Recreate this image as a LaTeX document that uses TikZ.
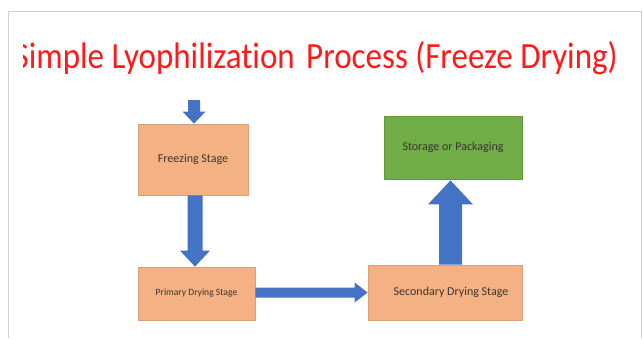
\documentclass[tikz,border=0pt]{standalone}
\usepackage{fontspec}
\setmainfont{Carlito}[Ligatures=NoCommon]
\usetikzlibrary{calc}
\definecolor{boxorange}{HTML}{F4B183}
\definecolor{boxorangeline}{HTML}{D9A07C}
\definecolor{boxgreen}{HTML}{70AD47}
\definecolor{boxgreenline}{HTML}{5E9A3C}
\definecolor{arrowblue}{HTML}{4472C4}
\definecolor{titlered}{HTML}{FF1A1A}
\definecolor{boxtext}{HTML}{3A3530}
\definecolor{framegray}{HTML}{CFCFCF}
\tikzset{
  stagebox/.style={draw=boxorangeline, line width=0.8pt, fill=boxorange, inner sep=0pt, font=\fontsize{12}{14}\selectfont, text=boxtext},
  donebox/.style={draw=boxgreenline, line width=0.8pt, fill=boxgreen, inner sep=0pt, font=\fontsize{12}{14}\selectfont, text=boxtext},
  frameline/.style={draw=framegray, line width=1pt},
}
% block arrow: #1 start, #2 tip, #3 shaft half width, #4 head half width, #5 head length
\newcommand\blockarrow[5]{%
  \path ($(#2)!#5!(#1)$) coordinate (hb);
  \fill[arrowblue] ($(#1)!#3!90:(#2)$) -- ($(hb)!#3!90:(#2)$) -- ($(hb)!#4!90:(#2)$) -- (#2)
    -- ($(hb)!#4!-90:(#2)$) -- ($(hb)!#3!-90:(#2)$) -- ($(#1)!#3!-90:(#2)$) -- cycle;
}
\begin{document}
\begin{tikzpicture}[x=1pt, y=-1pt]
\useasboundingbox (0,0) rectangle (643,338);
\fill[white] (0,0) rectangle (643,338);
% slide frame
\draw[frameline] (8.5,338) -- (8.5,11.5) -- (641.5,11.5) -- (641.5,338);
% title
\begin{scope}
\clip (23,20) rectangle (640,95);
\node[anchor=base east, inner sep=0pt, text=titlered, font=\fontsize{33}{37}\selectfont] (title) at (618,68)
  {\scalebox{1}[1.12]{Simple Lyophilization\hspace{0.35em}Process (Freeze Drying)}};
\end{scope}
% boxes
\node[stagebox, minimum width=110pt, minimum height=71pt] (fr) at (193,159.5) {Freezing Stage};
\node[stagebox, minimum width=117pt, minimum height=53pt, font=\fontsize{9.6}{11}\selectfont] (pr) at (196.5,293.5) {Primary Drying Stage};
\node[stagebox, minimum width=154pt, minimum height=55pt] (se) at (445,292.5) {\hspace{12pt}Secondary Drying Stage};
\node[donebox, minimum width=138pt, minimum height=63pt] (st) at (453,147.5) {Storage or Packaging\hspace{6pt}};
% arrows
\coordinate (t0) at (194,100);
\coordinate (t1) at (t0 |- fr.north);
\blockarrow{t0}{t1}{6pt}{11.5pt}{12pt}
\coordinate (d1) at ([xshift=2pt]fr.south);
\coordinate (d2) at (d1 |- pr.north);
\blockarrow{d1}{d2}{7.5pt}{15pt}{16pt}
\coordinate (r1) at ([yshift=1pt]pr.east);
\coordinate (r2) at (r1 -| se.west);
\blockarrow{r1}{r2}{5pt}{10pt}{13pt}
\coordinate (u1) at ([xshift=5.5pt]se.north);
\coordinate (u2) at ([yshift=-1pt]u1 |- st.south);
\blockarrow{u1}{u2}{11.5pt}{22.5pt}{24pt}
\end{tikzpicture}
\end{document}
